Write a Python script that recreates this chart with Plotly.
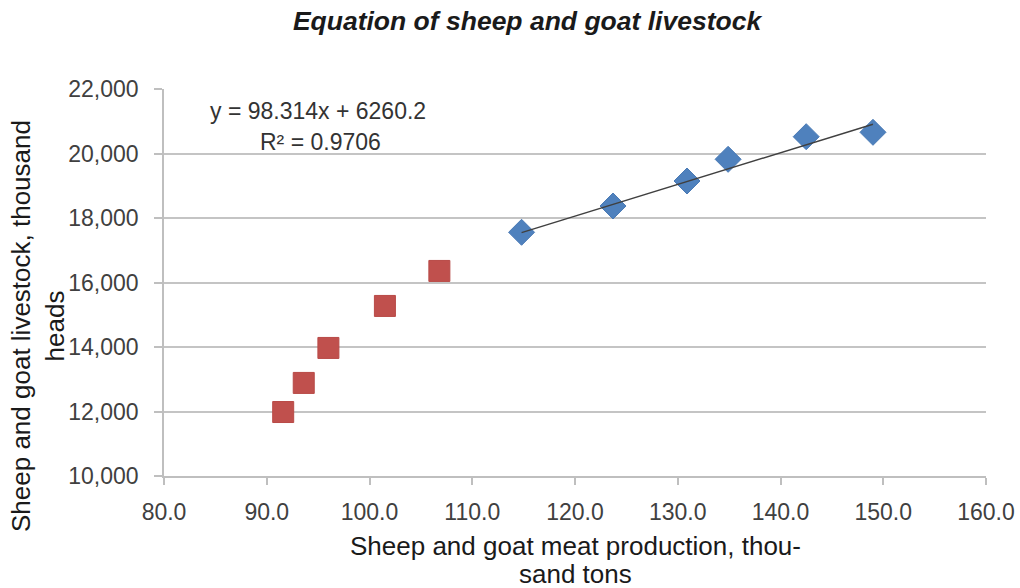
import numpy as np
import plotly.graph_objects as go

# blue series (with linear trend)
meat_blue = [114.8, 123.7, 130.9, 134.9, 142.5, 149.0]
stock_blue = [17557, 18372, 19147, 19820, 20521, 20657]

# red series
meat_red = [91.6, 93.6, 96.0, 101.5, 106.8]
stock_red = [11984, 12886, 13971, 15273, 16358]

slope = 98.314
intercept = 6260.2
r2 = 0.9706

TICK_FONT = "Liberation Sans, Arial, sans-serif"
TITLE_FONT = "Liberation Sans, Arial, sans-serif"

W, H = 1020, 588
L, T, PW, PH = 164, 89, 822, 387

fig = go.Figure()
fig.add_trace(go.Scatter(
    x=meat_red, y=stock_red, mode="markers",
    marker=dict(symbol="square", size=21, color="#C0504D",
                line=dict(color="#B84A47", width=1)),
    showlegend=False,
))
fig.add_trace(go.Scatter(
    x=meat_blue, y=stock_blue, mode="markers",
    marker=dict(symbol="diamond", size=20, color="#4F81BD",
                line=dict(color="#4A7AB5", width=1)),
    showlegend=False,
))
trend_x = np.array([min(meat_blue), max(meat_blue)])
fig.add_trace(go.Scatter(
    x=trend_x, y=slope * trend_x + intercept, mode="lines",
    line=dict(color="#404040", width=1.5),
    showlegend=False,
))


def px_x(page_x):
    return (page_x - L) / PW


def px_y(page_y):
    return (T + PH - page_y) / PH


title_font = dict(family=TITLE_FONT, size=26, color="#1a1a1a")
eq_font = dict(family=TICK_FONT, size=23, color="#333333")
tick_font = dict(family=TICK_FONT, size=23, color="#404040")

fig.update_layout(
    width=W, height=H,
    margin=dict(l=L, r=W - L - PW, t=T, b=H - T - PH, autoexpand=False),
    paper_bgcolor="white", plot_bgcolor="white",
    title=dict(
        text="<b><i>Equation of sheep and goat livestock</i></b>",
        x=527 / W, xanchor="center", y=1 - 21 / H, yanchor="middle",
        font=dict(family=TITLE_FONT, size=26.5, color="#1a1a1a"),
    ),
    xaxis=dict(
        range=[80, 160], dtick=10, tick0=80, tickformat=".1f",
        showgrid=False, zeroline=False, automargin=False,
        showline=True, linecolor="#bfbfbf", linewidth=1.5,
        ticks="outside", ticklen=7, tickcolor="#bfbfbf", tickwidth=1.5,
        tickfont=tick_font, ticklabelstandoff=8,
    ),
    yaxis=dict(
        range=[10000, 22000], dtick=2000, tick0=10000, tickformat=",",
        showgrid=True, gridcolor="#c4c4c4", gridwidth=1.5, zeroline=False,
        automargin=False,
        showline=True, linecolor="#bfbfbf", linewidth=1.5,
        ticks="outside", ticklen=8, tickcolor="#bfbfbf", tickwidth=1.5,
        tickfont=tick_font, ticklabelstandoff=11,
    ),
    annotations=[
        dict(text=f"y = {slope}x + {intercept}", xref="paper", yref="paper",
             x=px_x(318), y=px_y(111), showarrow=False,
             xanchor="center", yanchor="middle", font=eq_font),
        dict(text=f"R² = {r2}", xref="paper", yref="paper",
             x=px_x(320), y=px_y(142), showarrow=False,
             xanchor="center", yanchor="middle", font=eq_font),
        dict(text="Sheep and goat meat production, thou-", xref="paper", yref="paper",
             x=0.5, y=px_y(546), showarrow=False,
             xanchor="center", yanchor="middle", font=title_font),
        dict(text="sand tons", xref="paper", yref="paper",
             x=0.5, y=px_y(574), showarrow=False,
             xanchor="center", yanchor="middle", font=title_font),
        dict(text="Sheep and goat livestock, thousand<br>heads",
             xref="paper", yref="paper", textangle=-90,
             x=px_x(38), y=px_y(326), showarrow=False,
             xanchor="center", yanchor="middle", font=title_font),
    ],
)

# drop the default page margin so the figure fills the window exactly
fig.write_html(
    "out.html",
    config={"displayModeBar": False},
    post_script="document.body.style.margin='0';document.body.style.overflow='hidden';",
)
